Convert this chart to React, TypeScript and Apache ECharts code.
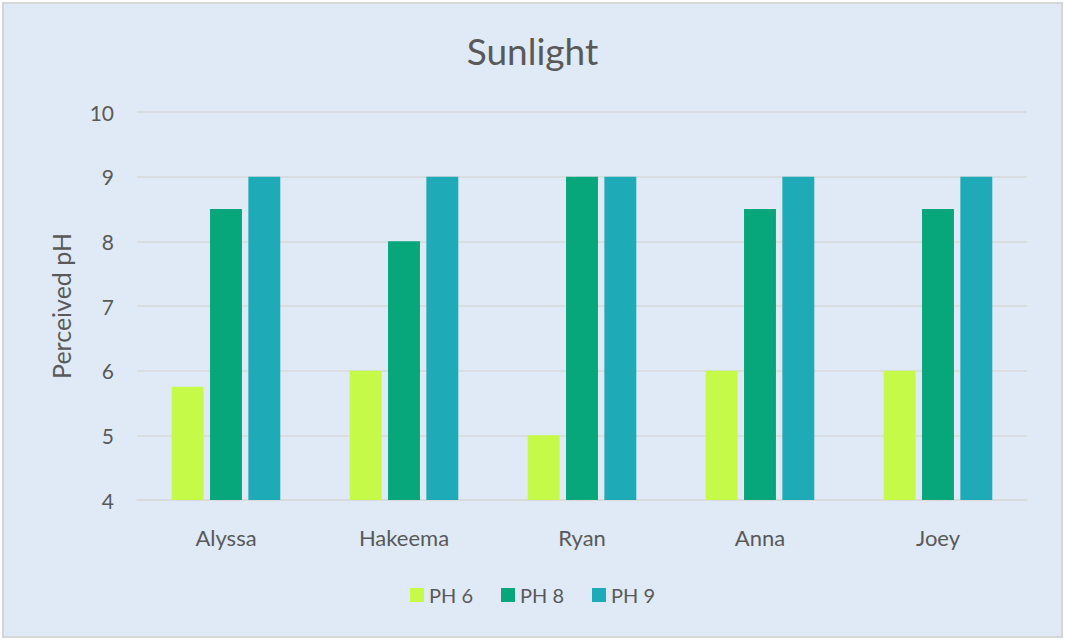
import React, { useEffect, useRef } from "react";
import * as echarts from "echarts";

const categories = ["Alyssa", "Hakeema", "Ryan", "Anna", "Joey"];
const ph6 = [5.75, 6, 5, 6, 6];
const ph8 = [8.5, 8, 9, 8.5, 8.5];
const ph9 = [9, 9, 9, 9, 9];
const seriesNames = ["PH 6", "PH 8", "PH 9"];
const colors = ["#c6fa48", "#07a67b", "#1eaab6"];

export default function App() {
  const ref = useRef<HTMLDivElement>(null);
  useEffect(() => {
    document.body.style.margin = "0";
    const chart = echarts.init(ref.current!, null, { renderer: "svg" });
    const font = "Lato, 'Open Sans', sans-serif";
    const data = [ph6, ph8, ph9];
    chart.setOption({
      animation: false,
      backgroundColor: "#dfeaf6",
      textStyle: { fontFamily: font },
      title: {
        text: "Sunlight",
        left: "center",
        top: 25,
        textStyle: { fontSize: 37, fontWeight: "normal", color: "#595959", fontFamily: font },
      },
      grid: { left: 135, right: 36, top: 110, bottom: 138 },
      legend: {
        top: 578,
        left: "center",
        itemWidth: 14,
        itemHeight: 14,
        itemGap: 28,
        icon: "rect",
        textStyle: { fontSize: 20, color: "#595959", fontFamily: font },
        data: seriesNames,
      },
      xAxis: {
        type: "category",
        data: categories,
        axisLine: { lineStyle: { color: "#d9d9d9", width: 1.5 } },
        axisTick: { show: false },
        axisLabel: { fontSize: 22, color: "#595959", margin: 26 },
      },
      yAxis: {
        type: "value",
        min: 4,
        max: 10,
        interval: 1,
        name: "Perceived pH",
        nameLocation: "middle",
        nameGap: 64,
        nameTextStyle: { fontSize: 25, color: "#595959" },
        axisLine: { show: false },
        axisTick: { show: false },
        axisLabel: { fontSize: 21, color: "#595959", margin: 23 },
        splitLine: { lineStyle: { color: "#d9d9d9", width: 1.5 } },
      },
      series: seriesNames.map((name, i) => ({
        name,
        type: "bar",
        data: data[i],
        itemStyle: { color: colors[i] },
        barGap: "20%",
        barCategoryGap: "39%",
      })),
    });
    return () => chart.dispose();
  }, []);
  return (
    <div style={{ position: "absolute", left: 0, top: 0, width: 1065, height: 640, background: "#ffffff" }}>
      <div
        ref={ref}
        style={{ position: "absolute", left: 2, top: 2, width: 1061, height: 636 }}
      />
      <div
        style={{
          position: "absolute",
          left: 2,
          top: 2,
          width: 1061,
          height: 636,
          boxSizing: "border-box",
          border: "2px solid #d6d6d6",
          pointerEvents: "none",
        }}
      />
    </div>
  );
}
